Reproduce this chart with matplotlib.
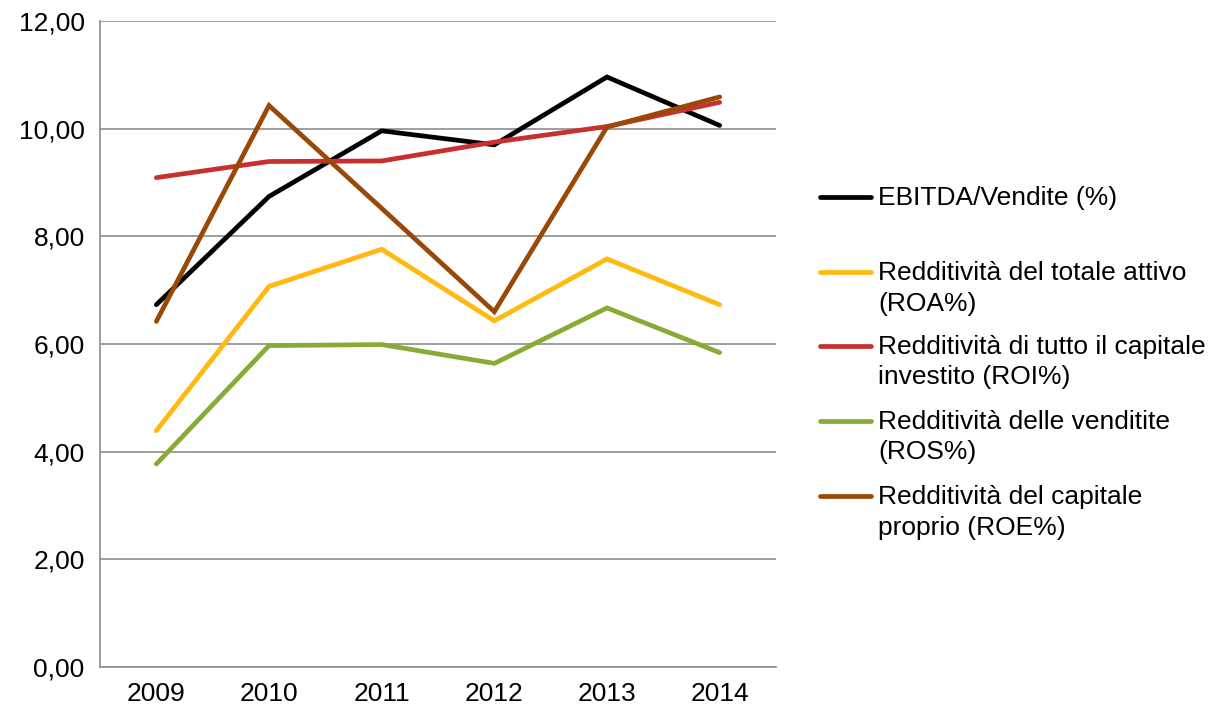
import matplotlib
matplotlib.use("Agg")
import matplotlib.pyplot as plt
from matplotlib.lines import Line2D

plt.rcParams['font.family'] = ['Liberation Sans', 'DejaVu Sans']

# dati
anni = ["2009", "2010", "2011", "2012", "2013", "2014"]
ebitda = [6.73, 8.74, 9.96, 9.70, 10.96, 10.06]
roa = [4.39, 7.07, 7.76, 6.43, 7.58, 6.73]
roi = [9.09, 9.39, 9.40, 9.75, 10.04, 10.49]
ros = [3.77, 5.97, 5.99, 5.64, 6.67, 5.84]
roe = [6.42, 10.43, 8.52, 6.60, 10.03, 10.59]

nomi = ["EBITDA/Vendite (%)",
        "Redditività del totale attivo\n(ROA%)",
        "Redditività di tutto il capitale\ninvestito (ROI%)",
        "Redditività delle venditite\n(ROS%)",
        "Redditività del capitale\nproprio (ROE%)"]
colori = ["#000000", "#FFB90F", "#C8302F", "#86AC36", "#984807"]
serie = [ebitda, roa, roi, ros, roe]

W, H = 1211, 709
FS = 19
LW = 3.4
fig = plt.figure(figsize=(W / 100, H / 100), dpi=100)
ax = fig.add_axes([100 / W, 1 - 667 / H, 676 / W, 646 / H])

x = list(range(len(anni)))
for valori, col in zip(serie, colori):
    ax.plot(x, valori, color=col, linewidth=LW, solid_capstyle='round',
            solid_joinstyle='miter', zorder=3)

ax.set_xlim(-0.5, len(anni) - 0.5)
ax.set_ylim(0, 12)
ax.set_yticks(range(0, 13, 2))
ax.set_yticklabels(["{:.2f}".format(v).replace(".", ",") for v in range(0, 13, 2)])
ax.set_xticks(x)
ax.set_xticklabels(anni)
ax.tick_params(axis='both', length=0, labelsize=FS, colors='black')
ax.tick_params(axis='y', pad=11)
ax.tick_params(axis='x', pad=11)
ax.grid(axis='y', color='#969696', linewidth=1.3, zorder=0)
for lato in ['top', 'right']:
    ax.spines[lato].set_visible(False)
for lato in ['left', 'bottom']:
    ax.spines[lato].set_color('#969696')
    ax.spines[lato].set_linewidth(1.3)

# legenda a destra, linea allineata alla prima riga del testo
righe_y = [198, 273, 347, 422, 497]
passo = 30.5
for nome, col, yy in zip(nomi, colori, righe_y):
    fy = 1 - (yy - 1) / H
    fig.add_artist(Line2D([820 / W, 871 / W], [fy, fy], color=col,
                          linewidth=LW, solid_capstyle='round',
                          transform=fig.transFigure))
    for i, riga in enumerate(nome.split("\n")):
        fig.text(878 / W, 1 - (yy + i * passo) / H, riga, fontsize=FS,
                 va='center', ha='left')

fig.savefig("out.png", dpi=100)
